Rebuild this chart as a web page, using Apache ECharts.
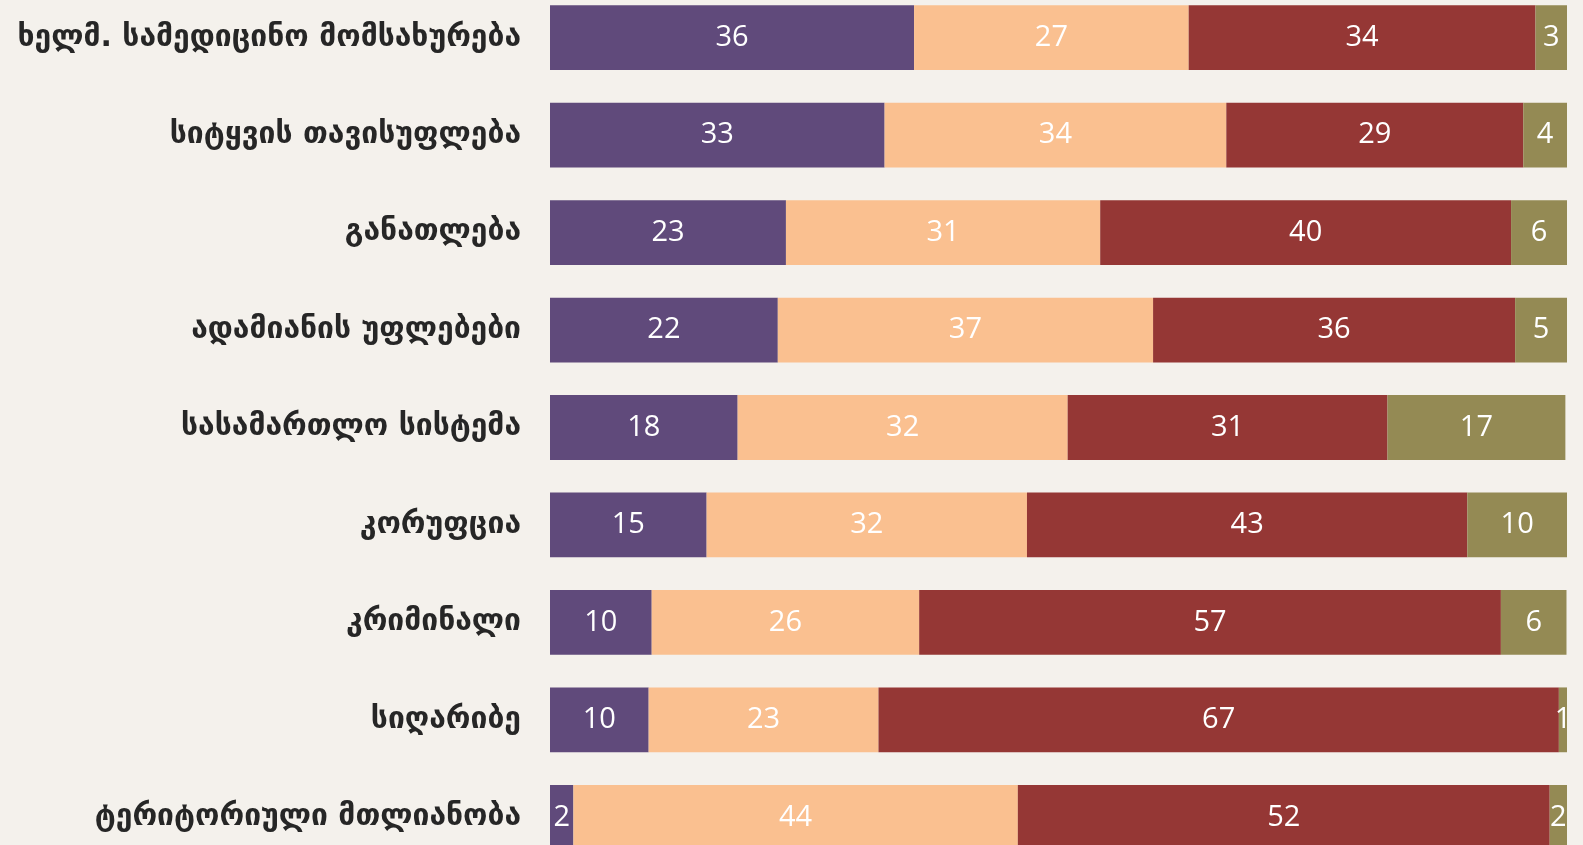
<!DOCTYPE html>
<html>
<head>
<meta charset="utf-8">
<script src="https://cdn.jsdelivr.net/npm/echarts@6/dist/echarts.min.js"></script>
<style>
html,body{margin:0;padding:0;background:#F4F1EC;overflow:hidden;}
#chart{width:1583px;height:845px;}
</style>
</head>
<body>
<div id="chart"></div>
<script>
const categories = [
  'ხელმ. სამედიცინო მომსახურება',
  'სიტყვის თავისუფლება',
  'განათლება',
  'ადამიანის უფლებები',
  'სასამართლო სისტემა',
  'კორუფცია',
  'კრიმინალი',
  'სიღარიბე',
  'ტერიტორიული მთლიანობა'
];
const seriesNames = ['სერია 1', 'სერია 2', 'სერია 3', 'სერია 4'];
const values1 = [35.8, 32.9, 23.2, 22.4, 18.45, 15.4, 10.0, 9.7, 2.3];
const values2 = [27.0, 33.6, 30.9, 36.9, 32.45, 31.5, 26.3, 22.6, 43.7];
const values3 = [34.1, 29.2, 40.4, 35.6, 31.45, 43.3, 57.2, 66.9, 52.3];
const values4 = [3.1, 4.3, 5.5, 5.1, 17.49, 9.8, 6.45, 0.8, 1.7];
const colors = ['#604A7B', '#FAC090', '#953735', '#948A54'];

const allValues = [values1, values2, values3, values4];
const chart = echarts.init(document.getElementById('chart'));
chart.setOption({
  backgroundColor: '#F4F1EC',
  animation: false,
  grid: { left: 550, right: 16, top: -11, bottom: -21, containLabel: false, outerBoundsMode: 'none' },
  xAxis: { type: 'value', min: 0, max: 100, show: false },
  yAxis: {
    type: 'category',
    data: categories,
    inverse: true,
    axisLine: { show: false },
    axisTick: { show: false },
    axisLabel: {
      margin: 29,
      fontFamily: 'DejaVu Sans',
      fontWeight: 'bold',
      fontSize: 30,
      color: '#262626'
    }
  },
  series: allValues.map((vals, i) => ({
    name: seriesNames[i],
    type: 'bar',
    stack: 'total',
    data: vals,
    barWidth: '66.5%',
    itemStyle: { color: colors[i] },
    label: {
      show: true,
      position: 'inside',
      color: '#FFFFFF',
      fontFamily: 'Open Sans',
      fontSize: 29,
      formatter: p => Math.round(p.value)
    }
  }))
});
</script>
</body>
</html>
